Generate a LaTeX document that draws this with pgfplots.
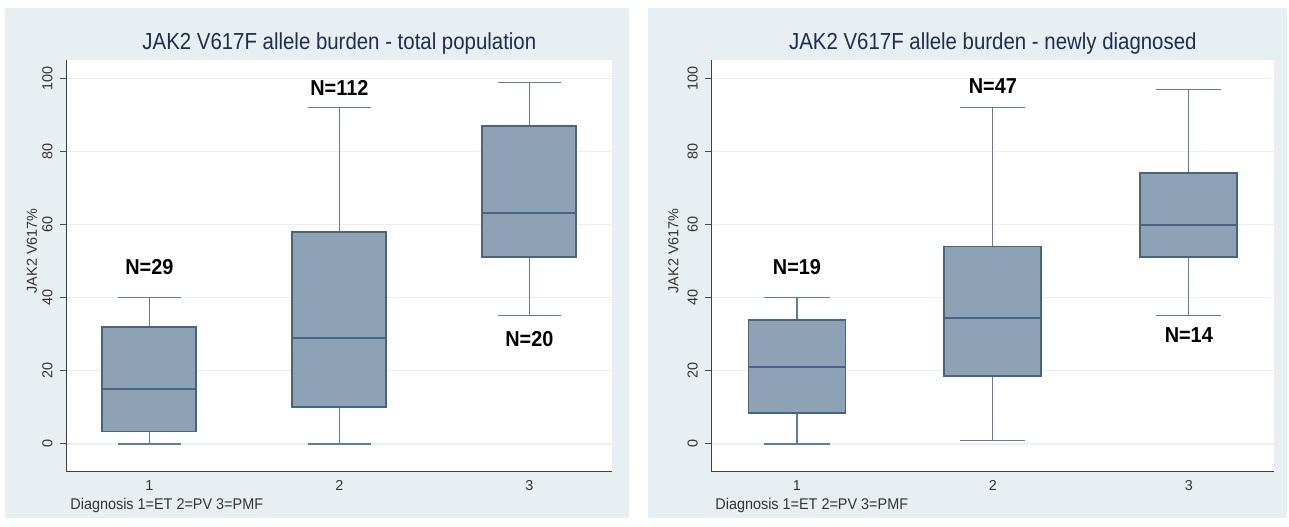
\documentclass[border=0pt]{standalone}
\usepackage{fontspec}
\setmainfont{Liberation Sans}
\usepackage{pgfplots}
\pgfplotsset{compat=1.18}
\usepgfplotslibrary{statistics}

\newfontfamily\titlefont[FakeStretch=0.88]{Liberation Sans}
\newfontfamily\notefont[FakeStretch=0.93]{Liberation Sans}
\newfontfamily\nfont[FakeStretch=0.92]{Liberation Sans Bold}

\definecolor{panelbg}{HTML}{E8EFF2}
\definecolor{boxfill}{HTML}{8EA2B6}
\definecolor{boxline}{HTML}{486482}
\definecolor{whisk}{HTML}{5D7E9E}
\definecolor{titlecol}{HTML}{1F2D4F}
\definecolor{gridcol}{HTML}{E9EFF2}

\tikzset{nlabel/.style={font=\nfont\fontsize{10.8}{12}\selectfont, text=black}}

\pgfplotsset{
  stataplot/.style={
    scale only axis,
    height=205.85pt,
    xmin=0.565, xmax=3.435,
    ymin=-7.6, ymax=105,
    axis x line*=bottom, axis y line*=left,
    axis line style={draw=black!75, line width=0.6pt},
    axis background/.style={fill=white},
    xtick={1,2,3},
    ytick={0,20,...,100},
    ymajorgrids,
    major grid style={gridcol, line width=0.6pt},
    tick align=outside,
    major tick length=3.5pt,
    ytick style={draw=black!70, line width=0.5pt},
    xtick style={draw=none},
    /pgf/number format/assume math mode=true,
    tick label style={font=\fontsize{7.2}{8}\selectfont, text=black!80},
    yticklabel style={rotate=90, anchor=south},
    xticklabel style={yshift=2.5pt},
    ylabel={JAK2 V617\%},
    ylabel style={font=\fontsize{7.2}{8}\selectfont, text=black!80,
      at={(axis description cs:-0.064,0.5366)}, anchor=center},
    xlabel={Diagnosis 1=ET 2=PV 3=PMF},
    xlabel style={font=\notefont\fontsize{7.75}{9}\selectfont, text=black!80,
      at={(axis description cs:0,0)}, anchor=base west, inner sep=0pt,
      xshift=1.65pt, yshift=-18.8pt},
    every axis title shift=0pt,
    title style={font=\titlefont\fontsize{11.6}{13}\selectfont, text=titlecol,
      at={(axis description cs:0.5,1)}, anchor=base, yshift=5pt},
    boxplot/draw direction=y,
    boxplot/box extend=0.495,
    boxplot/whisker extend=0.333,
    boxplot/every box/.style={fill=boxfill, draw=boxline, line width=0.9pt},
    boxplot/every median/.style={draw=boxline, line width=0.75pt},
    boxplot/every whisker/.style={draw=whisk, line width=0.6pt},
  },
}

\begin{document}
\begin{tikzpicture}
\path[use as bounding box, fill=white] (0,0) rectangle (644.5pt,263pt);
\fill[panelbg] (2.5pt,4pt) rectangle (314.5pt,259pt);
\fill[panelbg] (324pt,4pt) rectangle (643.5pt,259pt);

% total population
\begin{axis}[stataplot, at={(33.35pt,27.15pt)}, anchor=south west,
  width=272.65pt, title={JAK2 V617F allele burden - total population}]
\addplot[boxplot prepared={draw position=1, lower whisker=0, lower quartile=3.4,
  median=15, upper quartile=31.9, upper whisker=40}] coordinates {};
\addplot[boxplot prepared={draw position=2, lower whisker=0, lower quartile=10.2,
  median=28.9, upper quartile=58, upper whisker=92}] coordinates {};
\addplot[boxplot prepared={draw position=3, lower whisker=35.2, lower quartile=51.2,
  median=63.1, upper quartile=87, upper whisker=98.9}] coordinates {};
\node[nlabel] at (axis cs:1,48.4) {N=29};
\node[nlabel] at (axis cs:2,97.3) {N=112};
\node[nlabel] at (axis cs:3,28.7) {N=20};
\end{axis}

% newly diagnosed
\begin{axis}[stataplot, at={(355.85pt,27.15pt)}, anchor=south west,
  width=281.15pt, title={JAK2 V617F allele burden - newly diagnosed},
  ylabel style={at={(axis description cs:-0.068,0.5366)}}]
\addplot[boxplot prepared={draw position=1, lower whisker=0, lower quartile=8.5,
  median=21, upper quartile=34, upper whisker=40}] coordinates {};
\addplot[boxplot prepared={draw position=2, lower whisker=1, lower quartile=18.5,
  median=34.5, upper quartile=54, upper whisker=92}] coordinates {};
\addplot[boxplot prepared={draw position=3, lower whisker=35.2, lower quartile=51.2,
  median=59.9, upper quartile=74, upper whisker=97}] coordinates {};
\node[nlabel] at (axis cs:1,48.4) {N=19};
\node[nlabel] at (axis cs:2,97.8) {N=47};
\node[nlabel] at (axis cs:3,29.8) {N=14};
\end{axis}
\end{tikzpicture}
\end{document}
